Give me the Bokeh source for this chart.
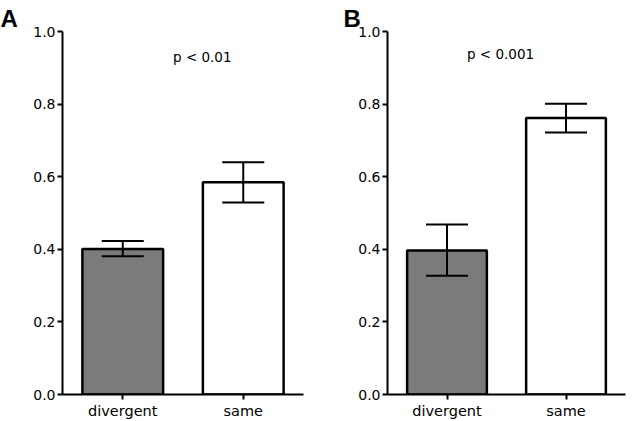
from bokeh.plotting import figure
from bokeh.layouts import row
from bokeh.models import (ColumnDataSource, FactorRange, Range1d, Whisker, TeeHead,
                          FixedTicker, PrintfTickFormatter)
from bokeh.transform import dodge
from bokeh.core.properties import value
from bokeh.embed import file_html
from bokeh.resources import INLINE

categories = ["divergent", "same"]
a_means = [0.401, 0.585]
a_lower = [0.381, 0.529]
a_upper = [0.423, 0.640]
b_means = [0.397, 0.762]
b_lower = [0.327, 0.722]
b_upper = [0.468, 0.801]
bar_colors = ["#7b7b7b", "#ffffff"]
panel_letters = ["A", "B"]
p_labels = ["p < 0.01", "p < 0.001"]
p_label_y = [0.93, 0.937]
y_ticks = [0.0, 0.2, 0.4, 0.6, 0.8, 1.0]

FONT = "DejaVu Sans"
H = 421


def make_panel(letter, means, lower, upper, ptext, py, ptext_cat, ptext_off,
               width, bl, br, bt, bb, letter_dx):
    p = figure(width=width, height=H, x_range=FactorRange(*categories, range_padding=0),
               y_range=Range1d(0, 1.0), output_backend="svg", toolbar_location=None,
               min_border_left=bl, min_border_right=br, min_border_top=bt,
               min_border_bottom=bb, title=letter)
    p.title.text_font = "Liberation Sans"
    p.title.text_font_style = "bold"
    p.title.text_font_size = "24px"
    p.title.text_color = "black"
    p.title.align = "left"
    p.title.offset = letter_dx
    p.title.standoff = 0

    p.outline_line_color = None
    p.xgrid.grid_line_color = None
    p.ygrid.grid_line_color = None
    p.background_fill_color = "white"
    p.border_fill_color = "white"

    src = ColumnDataSource(dict(x=categories, top=means, lower=lower, upper=upper,
                                color=bar_colors))
    p.vbar(x="x", top="top", width=0.67, fill_color="color", line_color="black",
           line_width=2.5, source=src)
    w = Whisker(base="x", upper="upper", lower="lower", source=src, line_width=2,
                line_color="black", level="annotation",
                upper_head=TeeHead(size=42, line_width=2, line_color="black"),
                lower_head=TeeHead(size=42, line_width=2, line_color="black"))
    p.add_layout(w)

    tsrc = ColumnDataSource(dict(x=[ptext_cat], y=[py], t=[ptext]))
    p.text(x=dodge("x", ptext_off, range=p.x_range), y="y", text="t", source=tsrc,
           text_font=value(FONT), text_font_size="13.5px", text_align="center",
           text_baseline="middle", text_color="black")

    for ax in (p.xaxis[0], p.yaxis[0]):
        ax.axis_line_width = 2
        ax.axis_line_color = "black"
        ax.major_tick_line_width = 2
        ax.major_tick_line_color = "black"
        ax.major_tick_out = 5
        ax.major_tick_in = 0
        ax.minor_tick_line_color = None
        ax.major_label_text_color = "black"
        ax.major_label_text_font = FONT
    p.yaxis.ticker = FixedTicker(ticks=y_ticks)
    p.yaxis.formatter = PrintfTickFormatter(format="%.1f")
    p.yaxis.major_label_text_font_size = "14px"
    p.yaxis.major_label_standoff = 2
    p.xaxis.major_label_text_font_size = "14.5px"
    p.xaxis.major_label_standoff = 3
    return p


pa = make_panel(panel_letters[0], a_means, a_lower, a_upper, p_labels[0], p_label_y[0],
                "same", -0.34, 320, 62, 17, 29, 27, -62)
pb = make_panel(panel_letters[1], b_means, b_lower, b_upper, p_labels[1], p_label_y[1],
                "divergent", 0.45, 312, 67, 7, 31, 25, -44)

layout = row(pa, pb)
open("out.html", "w").write(file_html(layout, INLINE))
